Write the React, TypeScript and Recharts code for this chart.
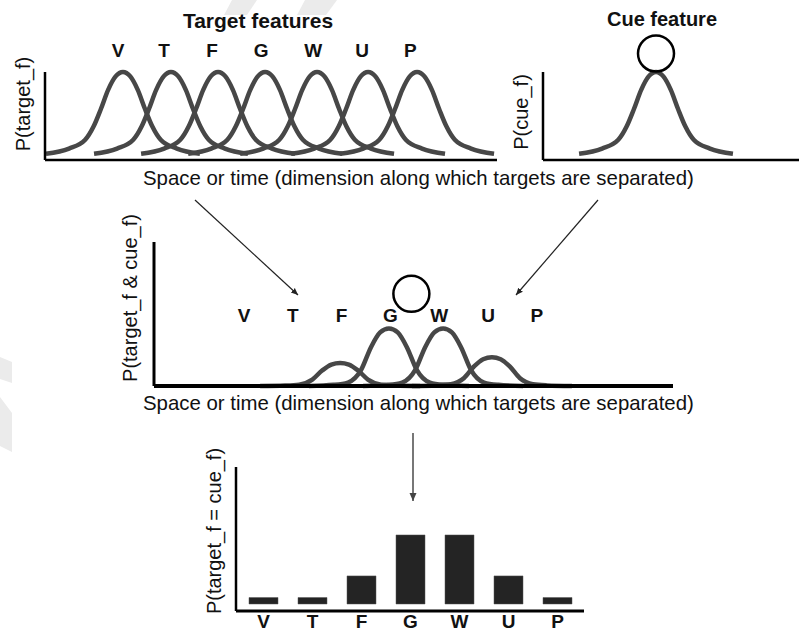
import { LineChart, Line, XAxis, YAxis, ReferenceDot, BarChart, Bar } from 'recharts'

const FEATURES = ['V', 'T', 'F', 'G', 'W', 'U', 'P']

// top panel, x in units of one feature step (V peak = 1)
const TARGET_CENTERS = [1, 1.98, 2.94, 3.9, 4.96, 6, 7]
const TARGET_LABEL_AT = [0.9, 1.84, 2.82, 3.82, 4.88, 5.88, 6.86]
// shape of one tuning curve: offset from peak / height as share of peak
const TUNING_DX = [-1.57, -1.1, -0.77, -0.6, -0.45, -0.3, -0.15, 0, 0.15, 0.3, 0.45, 0.6, 0.77, 1.1, 1.57]
const TUNING_H = [0.07, 0.13, 0.23, 0.38, 0.58, 0.8, 0.95, 1, 0.95, 0.8, 0.58, 0.38, 0.23, 0.13, 0.07]

// cue panel
const CUE_CENTER = 0
const CUE_MARK_Y = 1.21

// middle panel (target & cue)
const JOINT_CENTERS = [2.97, 3.97, 5.08, 6.08]
const JOINT_PEAKS = [0.16, 0.4, 0.4, 0.2]
const JOINT_DX = [-1.64, -1.13, -0.84, -0.57, -0.37, -0.18, 0, 0.18, 0.37, 0.57, 0.84, 1.13, 1.64]
const JOINT_H = [0, 0.02, 0.06, 0.28, 0.67, 0.93, 1, 0.93, 0.67, 0.28, 0.06, 0.02, 0]
const JOINT_LABEL_AT = [1, 2, 3, 4, 5, 6, 7]
const JOINT_MARK_X = 4.43
const JOINT_MARK_Y = 0.64

// bottom panel
const MATCH_PROB = [0.03, 0.03, 0.13, 0.32, 0.32, 0.13, 0.03]

const X_LABEL = 'Space or time (dimension along which targets are separated)'
const FONT = '"Liberation Sans", Arial, Helvetica, sans-serif'
const CURVE = '#474747'
const Y_W = 10

const tuning = (c: number) => TUNING_DX.map((dx, i) => ({ x: c + dx, y: TUNING_H[i] }))
const joint = (c: number, peak: number) => JOINT_DX.map((dx, i) => ({ x: c + dx, y: JOINT_H[i] * peak }))
const matchData = FEATURES.map((f, i) => ({ feature: f, p: MATCH_PROB[i] }))

const LetterTick = ({ x, y, payload, at, dy, dx = 0 }: any) => {
  const i = at.indexOf(payload.value)
  return (
    <text x={x + dx} y={y + dy} textAnchor="middle" fontFamily={FONT} fontWeight="bold" fontSize={19} fill="#111">
      {FEATURES[i]}
    </text>
  )
}

const axisLine = (w: number) => ({ stroke: '#000', strokeWidth: w })

const abs = (left: number, top: number) => ({ position: 'absolute' as const, left, top })

const VLabel = ({ x, y, text }: { x: number; y: number; text: string }) => (
  <text x={x} y={y} transform={`rotate(-90 ${x} ${y})`} textAnchor="middle" fontFamily={FONT} fontSize={20} fill="#111">
    {text}
  </text>
)

const App = () => {
  return (
    <div style={{ position: 'absolute', left: 0, top: 0, width: 799, height: 633, background: '#fff', overflow: 'hidden' }}>
      <svg width={799} height={633} style={abs(0, 0)}>
        <defs>
          <marker id="head" markerWidth={8} markerHeight={8} refX={7} refY={4} orient="auto" markerUnits="userSpaceOnUse">
            <path d="M0,1 L7,4 L0,7 z" fill="#222" />
          </marker>
          <marker id="headGray" markerWidth={9} markerHeight={9} refX={8} refY={4.5} orient="auto" markerUnits="userSpaceOnUse">
            <path d="M0,1 L8,4.5 L0,8 z" fill="#444" />
          </marker>
        </defs>
        {/* faint watermark */}
        <g fill="#ebebeb">
          <polygon points="232,0 257,0 247,15 224,15" />
          <polygon points="305,0 337,0 326,15 297,15" />
          <polygon points="0,357 12,362 12,383 0,379" />
          <polygon points="0,397 12,413 12,452 0,446" />
        </g>

        <text x={258} y={28} textAnchor="middle" fontFamily={FONT} fontWeight="bold" fontSize={21} fill="#111">Target features</text>
        <text x={662} y={26} textAnchor="middle" fontFamily={FONT} fontWeight="bold" fontSize={20} fill="#111">Cue feature</text>

        <VLabel x={30} y={104} text="P(target_f)" />
        <VLabel x={528} y={112} text="P(cue_f)" />
        <VLabel x={137} y={298} text="P(target_f & cue_f)" />
        <VLabel x={221} y={531} text="P(target_f = cue_f)" />

        <text x={143} y={185} fontFamily={FONT} fontSize={20.4} fill="#111">{X_LABEL}</text>
        <text x={143} y={410} fontFamily={FONT} fontSize={20.4} fill="#111">{X_LABEL}</text>

        <line x1={195} y1={200} x2={298} y2={295} stroke="#222" strokeWidth={1.2} markerEnd="url(#head)" />
        <line x1={598} y1={200} x2={516} y2={295} stroke="#222" strokeWidth={1.2} markerEnd="url(#head)" />
        <line x1={413} y1={433} x2={413} y2={501} stroke="#555" strokeWidth={1.6} markerEnd="url(#headGray)" />
      </svg>

      {/* target features */}
      <div style={abs(0, 0)}>
        <LineChart width={520} height={200} margin={{ top: 72, right: 23, bottom: 38, left: 45 - Y_W }}>
          <XAxis
            type="number"
            dataKey="x"
            domain={[-0.59, 8.63]}
            allowDataOverflow
            height={2}
            ticks={TARGET_LABEL_AT}
            interval={0}
            tickSize={0}
            tickMargin={0}
            tickLine={false}
            axisLine={axisLine(2.5)}
            tick={(p: any) => <LetterTick {...p} at={TARGET_LABEL_AT} dy={-103} />}
          />
          <YAxis type="number" domain={[0, 1]} width={Y_W} tick={false} tickLine={false} axisLine={axisLine(2.5)} />
          {TARGET_CENTERS.map((c, i) => (
            <Line
              key={FEATURES[i]}
              data={tuning(c)}
              dataKey="y"
              type="monotone"
              stroke={CURVE}
              strokeWidth={4.5}
              dot={false}
              isAnimationActive={false}
            />
          ))}
        </LineChart>
      </div>

      {/* cue feature */}
      <div style={abs(500, 0)}>
        <LineChart width={299} height={200} margin={{ top: 72, right: 0, bottom: 38, left: 43 - Y_W }}>
          <XAxis type="number" dataKey="x" domain={[-2.306, 2.918]} allowDataOverflow height={2} tick={false} tickLine={false} axisLine={axisLine(2.5)} />
          <YAxis type="number" domain={[0, 1]} width={Y_W} tick={false} tickLine={false} axisLine={axisLine(2.5)} />
          <Line data={tuning(CUE_CENTER)} dataKey="y" type="monotone" stroke={CURVE} strokeWidth={4.5} dot={false} isAnimationActive={false} />
          <ReferenceDot x={CUE_CENTER} y={CUE_MARK_Y} r={18} fill="none" stroke="#000" strokeWidth={2.5} ifOverflow="visible" />
        </LineChart>
      </div>

      {/* target & cue */}
      <div style={abs(0, 200)}>
        <LineChart width={700} height={210} margin={{ top: 42, right: 27, bottom: 22, left: 154 - Y_W }}>
          <XAxis
            type="number"
            dataKey="x"
            domain={[-0.844, 9.791]}
            allowDataOverflow
            height={2}
            ticks={JOINT_LABEL_AT}
            interval={0}
            tickSize={0}
            tickMargin={0}
            tickLine={false}
            axisLine={axisLine(4)}
            tick={(p: any) => <LetterTick {...p} at={JOINT_LABEL_AT} dy={-64.5} />}
          />
          <YAxis type="number" domain={[0, 1]} width={Y_W} tick={false} tickLine={false} axisLine={axisLine(3)} />
          {JOINT_CENTERS.map((c, i) => (
            <Line
              key={c}
              data={joint(c, JOINT_PEAKS[i])}
              dataKey="y"
              type="monotone"
              stroke={CURVE}
              strokeWidth={4.5}
              dot={false}
              isAnimationActive={false}
            />
          ))}
          <ReferenceDot x={JOINT_MARK_X} y={JOINT_MARK_Y} r={18} fill="none" stroke="#000" strokeWidth={2.5} ifOverflow="visible" />
        </LineChart>
      </div>

      {/* P(target = cue) */}
      <div style={abs(0, 400)}>
        <BarChart width={620} height={233} data={matchData} margin={{ top: 67, right: 36, bottom: 0, left: 236 - Y_W }}>
          <XAxis
            dataKey="feature"
            height={22}
            padding={{ left: 3, right: 2 }}
            interval={0}
            tickSize={0}
            tickMargin={0}
            tickLine={false}
            axisLine={axisLine(3)}
            tick={({ x, y, payload }: any) => (
              <text x={x} y={y + 17} textAnchor="middle" fontFamily={FONT} fontWeight="bold" fontSize={19} fill="#111">
                {payload.value}
              </text>
            )}
          />
          <YAxis type="number" domain={[-0.0325, 0.635]} allowDataOverflow width={Y_W} tick={false} tickLine={false} axisLine={axisLine(2.5)} />
          <Bar dataKey="p" fill="#242424" stroke="#555" strokeWidth={0.5} barSize={29} isAnimationActive={false} />
        </BarChart>
      </div>
    </div>
  )
}

export default App
